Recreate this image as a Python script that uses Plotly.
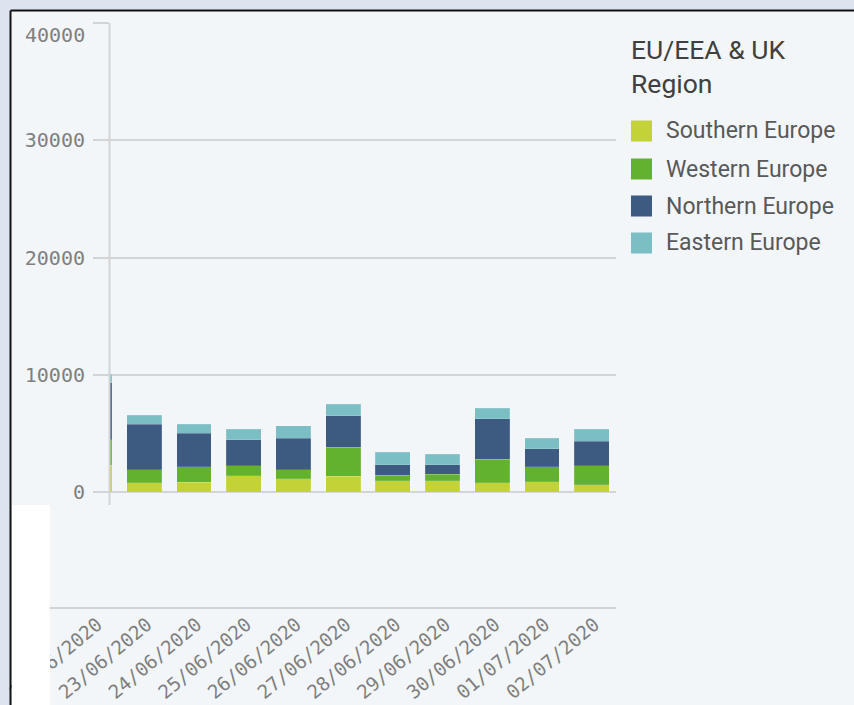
import plotly.graph_objects as go

# ---- data ----
dates = ["22/06/2020", "23/06/2020", "24/06/2020", "25/06/2020", "26/06/2020",
         "27/06/2020", "28/06/2020", "29/06/2020", "30/06/2020", "01/07/2020", "02/07/2020"]
southern = [2300, 800, 830, 1390, 1110, 1365, 940, 940, 770, 880, 620]
western = [2140, 1080, 1330, 830, 790, 2445, 510, 570, 2020, 1280, 1620]
northern = [4860, 3920, 2870, 2220, 2680, 2700, 880, 820, 3460, 1510, 2110]
eastern = [760, 740, 770, 910, 1050, 990, 1080, 910, 890, 910, 1000]
series_names = ["Southern Europe", "Western Europe", "Northern Europe", "Eastern Europe"]
series_colors = ["#c3d236", "#62b12f", "#3d5a80", "#7bbfc4"]
y_ticks = [0, 10000, 20000, 30000, 40000]
legend_title = "EU/EEA & UK<br>Region"

# ---- geometry (pixels) ----
W, H = 854, 705
ML, R, T, B = 12, 616, 23, 607     # margins of the paper area
AX = 110                           # left edge of the bar plotting area
C0, STEP = 94.5, 49.72             # pixel centre of first category, spacing

def px(x):
    return (x - ML) / (R - ML)
def py(y):
    return (B - y) / (B - T)

fig = go.Figure()
idx = list(range(len(dates)))
for name, vals, col in zip(series_names, [southern, western, northern, eastern], series_colors):
    fig.add_trace(go.Bar(x=idx, y=vals, name=name, width=0.7,
                         marker=dict(color=col, line=dict(color="rgba(255,255,255,0.25)", width=0.6)),
                         showlegend=False))
# empty trace that only hosts the full-width date-label axis
fig.add_trace(go.Scatter(x=[], y=[], xaxis="x2", yaxis="y2", showlegend=False,
                         hoverinfo="skip", mode="markers"))

grid = "#d2d4d6"
tickfont_col = "#7f7f7f"
bg = "#f2f6f9"
yrange = [-9808, 40000]
fig.update_layout(
    width=W, height=H, barmode="stack",
    margin=dict(l=ML, r=W - R, t=T, b=H - B, pad=0),
    paper_bgcolor=bg, plot_bgcolor="rgba(0,0,0,0)",
    xaxis=dict(domain=[px(AX), 1], range=[(AX - C0) / STEP, (R - C0) / STEP],
               showticklabels=False, showgrid=False, showline=False, zeroline=False,
               ticks="", automargin=False),
    yaxis=dict(range=yrange, tickmode="array", tickvals=y_ticks,
               ticktext=[str(v) if v != y_ticks[-1] else "" for v in y_ticks],
               showgrid=True, gridcolor=grid, gridwidth=2, zeroline=False, showline=False,
               ticks="outside", ticklen=16, tickcolor=grid, tickwidth=2,
               ticklabelstandoff=4, automargin=False,
               tickfont=dict(family="DejaVu Sans Mono", size=20, color=tickfont_col)),
    # label axis spanning the full width (so the first, clipped date keeps its label)
    xaxis2=dict(domain=[0, 1], anchor="y2", range=[(ML - C0) / STEP, (R - C0) / STEP],
                tickmode="array", tickvals=idx, ticktext=dates, tickangle=-40,
                showgrid=False, zeroline=False, ticks="", automargin=False,
                ticklabelshift=3, ticklabelstandoff=-3,
                showline=True, linecolor=grid, linewidth=2,
                tickfont=dict(family="DejaVu Sans Mono", size=19, color=tickfont_col)),
    yaxis2=dict(range=yrange, anchor="x2", domain=[0, 1], showticklabels=False, ticks="",
                showline=False, showgrid=False, zeroline=False, automargin=False),
)

shapes = []
# y-axis line
shapes.append(dict(type="line", xref="paper", yref="paper", x0=px(AX - 0.5), x1=px(AX - 0.5),
                   y0=py(23), y1=py(505), line=dict(color=grid, width=2)))
# white patch bottom-left
shapes.append(dict(type="rect", xref="paper", yref="paper", x0=px(12), x1=px(50),
                   y0=py(505), y1=py(706), fillcolor="#ffffff", line=dict(width=0), layer="above"))
# outer strips and border
outer = "#dbe4ef"
shapes.append(dict(type="rect", xref="paper", yref="paper", x0=px(0), x1=px(W),
                   y0=py(0), y1=py(9.5), fillcolor=outer, line=dict(width=0), layer="above"))
shapes.append(dict(type="rect", xref="paper", yref="paper", x0=px(0), x1=px(9.5),
                   y0=py(0), y1=py(H), fillcolor=outer, line=dict(width=0), layer="above"))
shapes.append(dict(type="line", xref="paper", yref="paper", x0=px(10.5), x1=px(W),
                   y0=py(10.5), y1=py(10.5), line=dict(color="#111111", width=2), layer="above"))
shapes.append(dict(type="line", xref="paper", yref="paper", x0=px(10.5), x1=px(10.5),
                   y0=py(10.5), y1=py(H), line=dict(color="#111111", width=2), layer="above"))

annotations = []
# top y tick label (shifted inside)
annotations.append(dict(text=str(y_ticks[-1]), xref="paper", yref="paper", x=px(87), y=py(34.5),
                        xanchor="right", yanchor="middle", showarrow=False,
                        font=dict(family="DejaVu Sans Mono", size=20, color=tickfont_col)))

# custom legend
annotations.append(dict(text=legend_title, xref="paper", yref="paper", x=px(629), y=py(32),
                        xanchor="left", yanchor="top", showarrow=False, align="left",
                        font=dict(family="Roboto", size=26.5, color="#404040")))
item_y = [131, 169, 206, 243]
for name, col, yy in zip(series_names, series_colors, item_y):
    shapes.append(dict(type="rect", xref="paper", yref="paper", x0=px(631), x1=px(652),
                       y0=py(yy - 10.5), y1=py(yy + 10.5), fillcolor=col, line=dict(width=0)))
    annotations.append(dict(text=name, xref="paper", yref="paper", x=px(664), y=py(yy),
                            xanchor="left", yanchor="middle", showarrow=False,
                            font=dict(family="Roboto", size=23, color="#595959")))

fig.update_layout(shapes=shapes, annotations=annotations)
fig.write_html("out.html", config={"displayModeBar": False},
               post_script="document.body.style.margin='0';document.body.style.overflow='hidden';")
